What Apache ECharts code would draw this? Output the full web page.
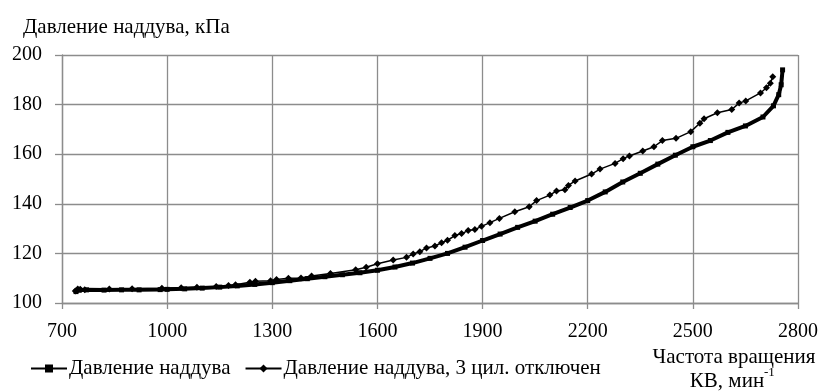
<!DOCTYPE html>
<html><head><meta charset="utf-8">
<script src="https://cdn.jsdelivr.net/npm/echarts@6/dist/echarts.min.js"></script>
<style>html,body{margin:0;padding:0;background:#fff}#c{width:823px;height:392px}</style>
</head><body><div id="c"></div>
<script>
const seriesNames = ['Давление наддува', 'Давление наддува, 3 цил. отключен'];
const yTitle = 'Давление наддува, кПа';
const xTitleLine1 = 'Частота вращения';
const xTitleLine2 = 'КВ, мин';
const xTitleSup = '-1';

const rpm1 = [740,750,770,820,870,920,980,1000,1050,1100,1150,1200,1250,1300,1350,1400,1450,1500,1550,1600,1650,1700,1750,1800,1850,1900,1950,2000,2050,2100,2150,2200,2250,2300,2350,2400,2450,2500,2550,2600,2650,2700,2730,2745,2752,2756];
const p1 = [104.6,105.2,105.3,105.2,105.3,105.3,105.4,105.5,105.7,106.0,106.4,106.9,107.5,108.2,109.0,109.8,110.6,111.4,112.2,113.2,114.5,116.1,118.0,120.0,122.5,125.2,127.8,130.5,133.0,135.8,138.5,141.3,144.8,148.8,152.3,156.0,159.6,163.0,165.5,168.8,171.4,175.0,179.5,184.0,188.0,194.0];

const rpm2 = [738,745,752,765,835,900,985,1040,1085,1140,1175,1195,1236,1252,1295,1312,1346,1382,1412,1466,1538,1568,1600,1645,1683,1702,1721,1740,1764,1783,1800,1821,1840,1859,1878,1897,1921,1948,1992,2033,2054,2092,2111,2135,2145,2164,2211,2235,2278,2301,2319,2357,2389,2413,2452,2494,2520,2532,2570,2611,2632,2651,2693,2710,2721,2728];
const p2 = [104.8,105.6,105.5,105.3,105.6,105.7,105.9,106.1,106.4,106.7,107.1,107.4,108.4,108.8,109.0,109.5,110.0,110.1,110.9,111.9,113.4,114.4,115.8,117.3,118.4,119.8,120.7,122.2,123.0,124.3,125.3,127.2,128.0,129.2,129.6,130.9,132.4,134.1,136.8,138.8,141.3,143.5,145.2,145.7,147.4,149.2,152.0,154.0,156.3,158.2,159.3,161.3,163.0,165.5,166.4,169.1,172.5,174.3,176.7,178.0,180.6,181.5,184.7,186.8,188.6,191.2];

const FONT = 'Liberation Serif';
const chart = echarts.init(document.getElementById('c'), null, {renderer: 'canvas'});
const gridColor = '#8c8c8c';
chart.setOption({
  animation: false,
  textStyle: {fontFamily: FONT},
  grid: {left: 62, right: 25, top: 55, bottom: 89},
  xAxis: {
    type: 'value', min: 700, max: 2800, interval: 300,
    axisLine: {show: true, lineStyle: {color: gridColor, width: 1.3}},
    axisTick: {show: true, length: 6, lineStyle: {color: gridColor, width: 1.3}},
    axisLabel: {color: '#000', fontSize: 20, fontFamily: FONT, margin: 19, formatter: v => String(v)},
    splitLine: {show: true, lineStyle: {color: gridColor, width: 1.3}}
  },
  yAxis: {
    type: 'value', min: 100, max: 200, interval: 20,
    axisLine: {show: true, lineStyle: {color: gridColor, width: 1.3}},
    axisTick: {show: true, length: 7, lineStyle: {color: gridColor, width: 1.3}},
    axisLabel: {color: '#000', fontSize: 20, fontFamily: FONT, margin: 20, formatter: v => String(v)},
    splitLine: {show: true, lineStyle: {color: gridColor, width: 1.3}}
  },
  legend: {
    left: 25, top: 353, itemWidth: 36, itemHeight: 10, itemGap: 14,
    textStyle: {color: '#000', fontSize: 21, fontFamily: FONT, padding: [0,0,0,-3]},
    data: seriesNames
  },
  graphic: [
    {type: 'text', left: 23, top: 17, style: {text: yTitle, fill: '#000', font: '21px "Liberation Serif"'}},
    {type: 'text', x: 734, y: 357, style: {text: xTitleLine1, fill: '#000', font: '21px "Liberation Serif"', align: 'center', verticalAlign: 'middle'}},
    {type: 'text', x: 727, y: 381, style: {text: xTitleLine2, fill: '#000', font: '21px "Liberation Serif"', align: 'center', verticalAlign: 'middle'}},
    {type: 'text', x: 764, y: 373, style: {text: xTitleSup, fill: '#000', font: '13px "Liberation Serif"', align: 'left', verticalAlign: 'middle'}}
  ],
  series: [
    {
      name: seriesNames[0], type: 'line',
      data: rpm1.map((x, i) => [x, p1[i]]),
      symbol: 'rect', symbolSize: 5, showAllSymbol: true,
      lineStyle: {color: '#000', width: 4},
      itemStyle: {color: '#000'}, z: 3
    },
    {
      name: seriesNames[1], type: 'line',
      data: rpm2.map((x, i) => [x, p2[i]]),
      symbol: 'diamond', symbolSize: 7, showAllSymbol: true,
      lineStyle: {color: '#000', width: 1.5},
      itemStyle: {color: '#000'}, z: 4
    }
  ]
});
</script></body></html>
